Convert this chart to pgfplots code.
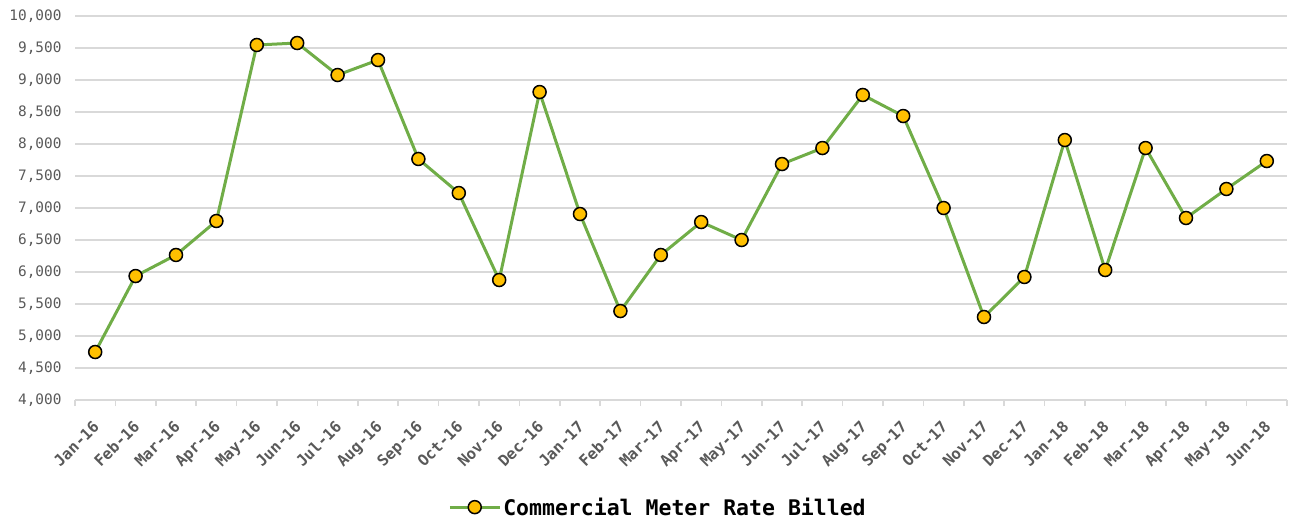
\documentclass[border=0pt]{standalone}
\usepackage{fontspec}
\setmainfont{DejaVu Sans Mono}
\usepackage{pgfplots}
\pgfplotsset{compat=1.18}
\definecolor{linegreen}{HTML}{70AD47}
\definecolor{markgold}{HTML}{FFC000}
\definecolor{gridgray}{HTML}{D9D9D9}
\definecolor{labelgray}{HTML}{595959}

\begin{document}
\begin{tikzpicture}
\begin{axis}[
    scale only axis,
    width=1212pt, height=384pt,
    xmin=-0.5, xmax=29.5,
    ymin=4000, ymax=10000,
    ytick={4000,4500,...,10000},
    scaled y ticks=false,
    yticklabel={\pgfmathprintnumber[fixed,precision=0,1000 sep={,}]{\tick}},
    xtick={0,...,29},
    xticklabels={Jan-16,Feb-16,Mar-16,Apr-16,May-16,Jun-16,Jul-16,Aug-16,Sep-16,Oct-16,Nov-16,Dec-16,
                 Jan-17,Feb-17,Mar-17,Apr-17,May-17,Jun-17,Jul-17,Aug-17,Sep-17,Oct-17,Nov-17,Dec-17,
                 Jan-18,Feb-18,Mar-18,Apr-18,May-18,Jun-18},
    minor xtick={-0.5,0.5,...,29.5},
    major tick length=0pt,
    minor tick length=6pt,
    tick align=outside,
    xtick pos=bottom,
    separate axis lines,
    x axis line style={draw=gridgray, line width=1.5pt},
    y axis line style={draw=none},
    minor x tick style={draw=gridgray, line width=1.5pt},
    ymajorgrids,
    grid style={draw=gridgray, line width=1.5pt},
    /pgf/number format/assume math mode=true,
    yticklabel style={font=\fontsize{14.4}{16}\selectfont, text=labelgray, xshift=-10pt},
    xticklabel style={font=\bfseries\fontsize{15.5}{18}\selectfont, text=labelgray, inner sep=0pt,
                      xshift=5pt, yshift=-28pt, rotate=45, anchor=base east},
    legend style={at={(0.481,-0.279)}, anchor=center, draw=none,
                  font=\bfseries\fontsize{21.5}{24}\selectfont},
    legend image code/.code={\draw[#1,mark repeat=2,mark phase=2] plot coordinates {(0pt,0pt)(25pt,0pt)(50pt,0pt)};},
]
\addplot[color=linegreen, line width=3pt, mark=*, mark size=6.5pt,
         mark options={fill=markgold, draw=black, line width=1.5pt}]
coordinates {
(0,4750) (1,5937) (2,6266) (3,6797) (4,9547) (5,9578) (6,9078) (7,9312)
(8,7766) (9,7234) (10,5875) (11,8812) (12,6906) (13,5390) (14,6266) (15,6781)
(16,6500) (17,7687) (18,7937) (19,8766) (20,8437) (21,7000) (22,5297) (23,5922)
(24,8062) (25,6031) (26,7937) (27,6844) (28,7297) (29,7734)
};
\addlegendentry{Commercial Meter Rate Billed}
\coordinate (bl) at (rel axis cs:0,0);
\coordinate (tr) at (rel axis cs:1,1);
\end{axis}
\pgfresetboundingbox
\path ([shift={(-75pt,-120pt)}]bl) rectangle ([shift={(5pt,16pt)}]tr);
\end{tikzpicture}
\end{document}
